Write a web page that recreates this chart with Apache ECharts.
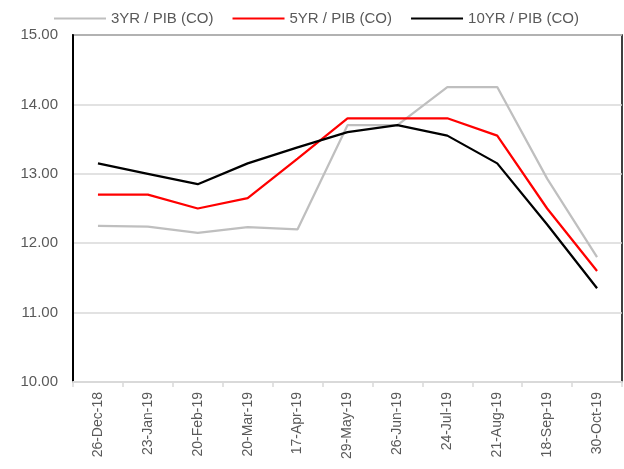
<!DOCTYPE html>
<html>
<head>
<meta charset="utf-8">
<script src="https://cdn.jsdelivr.net/npm/echarts@6/dist/echarts.min.js"></script>
<style>
  html, body { margin: 0; padding: 0; background: #fff; }
  #chart { width: 624px; height: 469px; }
</style>
</head>
<body>
<div id="chart"></div>
<script>
// ===== 数据 =====
const dates = ['26-Dec-18', '23-Jan-19', '20-Feb-19', '20-Mar-19', '17-Apr-19', '29-May-19',
  '26-Jun-19', '24-Jul-19', '21-Aug-19', '18-Sep-19', '30-Oct-19']
const yr3 = [12.25, 12.24, 12.15, 12.23, 12.20, 13.70, 13.70, 14.25, 14.25, 12.93, 11.80]
const yr5 = [12.70, 12.70, 12.50, 12.65, 13.22, 13.80, 13.80, 13.80, 13.55, 12.50, 11.60]
const yr10 = [13.15, 13.00, 12.85, 13.15, 13.38, 13.60, 13.70, 13.55, 13.15, 12.27, 11.35]

const seriesNames = ['3YR / PIB (CO)', '5YR / PIB (CO)', '10YR / PIB (CO)']
const seriesColors = ['#bfbfbf', '#ff0000', '#000000']

const font = '"Liberation Sans Narrow", "Arial Narrow", "Liberation Sans", sans-serif'

function makeLine(name, data, color) {
  return {
    name,
    type: 'line',
    data,
    symbol: 'none',
    lineStyle: { color, width: 2.25 },
    itemStyle: { color },
    emphasis: { disabled: true }
  }
}

const chart = echarts.init(document.getElementById('chart'))

chart.setOption({
  animation: false,
  textStyle: { fontFamily: font },
  legend: {
    top: 6,
    left: 49,
    icon: 'rect',
    itemWidth: 52,
    itemHeight: 2,
    itemGap: 19,
    textStyle: { fontFamily: font, fontSize: 15, color: '#595959' },
    data: seriesNames
  },
  grid: {
    left: 73,
    top: 35,
    right: 2,
    bottom: 87,
    show: true,
    borderColor: '#000',
    borderWidth: 1.5
  },
  xAxis: {
    type: 'category',
    data: dates,
    boundaryGap: true,
    axisLine: { lineStyle: { color: '#d9d9d9', width: 2 } },
    axisTick: { show: true, length: 5, lineStyle: { color: '#d9d9d9', width: 1.5 } },
    axisLabel: {
      rotate: 90,
      interval: 0,
      margin: 10,
      fontFamily: font,
      fontSize: 14,
      color: '#595959'
    }
  },
  yAxis: {
    type: 'value',
    min: 10,
    max: 15,
    interval: 1,
    axisLine: { show: true, lineStyle: { color: '#000', width: 2 } },
    axisTick: { show: false },
    splitLine: { lineStyle: { color: '#d9d9d9', width: 1.5 } },
    axisLabel: {
      margin: 15,
      fontFamily: font,
      fontSize: 15,
      color: '#595959',
      formatter: v => v.toFixed(2)
    }
  },
  series: [
    makeLine(seriesNames[0], yr3, seriesColors[0]),
    makeLine(seriesNames[1], yr5, seriesColors[1]),
    makeLine(seriesNames[2], yr10, seriesColors[2])
  ]
})
</script>
</body>
</html>
